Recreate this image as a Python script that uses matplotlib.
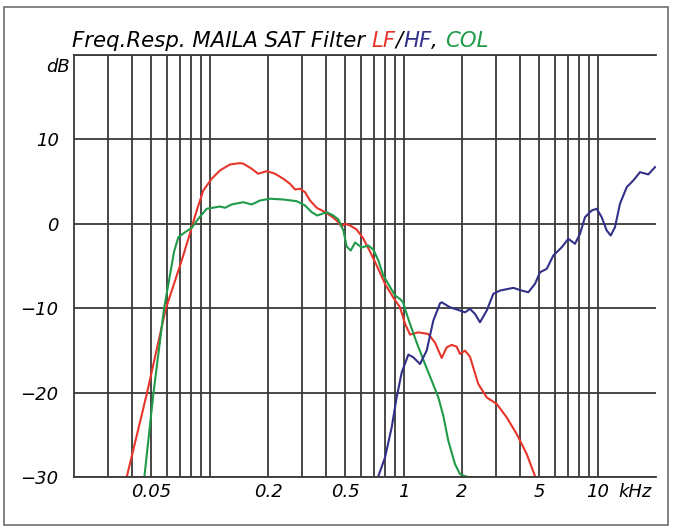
import numpy as np
import matplotlib
matplotlib.use('Agg')
import matplotlib.pyplot as plt
from matplotlib.patches import Rectangle


# frequency in kHz, level in dB
lf_freq = [0.0374, 0.0474, 0.0594, 0.0718, 0.0777, 0.0809, 0.0864, 0.0928, 0.1025, 0.1131,
           0.1274, 0.1435, 0.1492, 0.1648, 0.178, 0.197, 0.2174, 0.2398, 0.2596, 0.2756,
           0.2925, 0.3102, 0.3293, 0.3565, 0.3934, 0.426, 0.452, 0.4796, 0.4988, 0.5295,
           0.573, 0.620, 0.671, 0.727, 0.802, 0.885, 0.958, 1.017, 1.079, 1.190,
           1.341, 1.452, 1.572, 1.668, 1.770, 1.878, 1.953, 2.072, 2.198, 2.427,
           2.682, 3.020, 3.400, 3.828, 4.311, 4.756]
lf_db = [-30.0, -20.2, -10.1, -4.35, -1.78, -0.40, 1.78, 3.95, 5.34, 6.32,
         7.03, 7.19, 7.12, 6.52, 5.93, 6.24, 5.93, 5.34, 4.74, 4.07,
         4.15, 3.75, 2.76, 1.90, 1.38, 0.87, 0.39, -0.32, 0.0, -0.2,
         -0.68, -1.75, -3.29, -4.95, -7.12, -8.74, -9.89, -11.83, -13.13, -12.86,
         -13.05, -14.08, -15.9, -14.64, -14.35, -14.56, -15.42, -15.03, -15.74, -18.98,
         -20.57, -21.35, -22.94, -24.91, -27.28, -29.9]

hf_freq = [0.741, 0.802, 0.868, 0.921, 0.978, 1.058, 1.122, 1.215, 1.315, 1.423,
           1.541, 1.572, 1.734, 1.953, 2.072, 2.198, 2.334, 2.476, 2.682, 2.900,
           3.140, 3.266, 3.676, 4.062, 4.394, 4.756, 5.050, 5.466, 5.912, 6.532,
           7.064, 7.648, 8.115, 8.610, 9.326, 9.896, 10.50, 11.14, 11.68, 12.29,
           13.04, 14.13, 15.28, 16.54, 18.25, 19.76]
hf_db = [-29.9, -27.69, -24.13, -20.57, -17.6, -15.5, -15.82, -16.61, -15.03, -11.47,
         -9.42, -9.3, -9.89, -10.28, -10.49, -10.08, -10.68, -11.67, -10.28, -8.3,
         -7.91, -7.83, -7.59, -7.91, -8.11, -7.12, -5.74, -5.34, -3.76, -2.78,
         -1.78, -2.37, -1.19, 0.78, 1.58, 1.78, 0.78, -0.79, -1.39, -0.40,
         2.37, 4.34, 5.14, 6.12, 5.85, 6.71]

col_freq = [0.0461, 0.0513, 0.0582, 0.0656, 0.069, 0.0747, 0.0809, 0.0874, 0.0966, 0.1131,
            0.120, 0.130, 0.1435, 0.1492, 0.1648, 0.1819, 0.2048, 0.2398, 0.2812, 0.3102,
            0.336, 0.359, 0.401, 0.434, 0.461, 0.489, 0.509, 0.534, 0.562, 0.608,
            0.658, 0.698, 0.741, 0.786, 0.834, 0.903, 0.958, 0.996, 1.017, 1.079,
            1.168, 1.289, 1.396, 1.510, 1.602, 1.700, 1.840, 1.953, 2.072, 2.148]
col_db = [-30.0, -20.17, -10.08, -3.3, -1.59, -1.0, -0.47, 0.59, 1.78, 2.05,
          1.90, 2.29, 2.49, 2.56, 2.29, 2.76, 2.97, 2.88, 2.68, 2.17,
          1.38, 0.98, 1.38, 0.98, 0.51, -0.79, -2.69, -3.17, -2.22, -2.81,
          -2.57, -3.05, -4.35, -6.13, -7.12, -8.5, -8.9, -9.34, -10.08, -11.86,
          -14.08, -16.61, -18.59, -20.57, -22.74, -25.71, -28.47, -29.66, -29.9, -30.0]

grid_freqs = [0.03, 0.04, 0.05, 0.06, 0.07, 0.08, 0.09,
              0.1, 0.2, 0.3, 0.4, 0.5, 0.6, 0.7, 0.8, 0.9,
              1, 2, 3, 4, 5, 6, 7, 8, 9, 10]
x_labels = {0.05: '0.05', 0.2: '0.2', 0.5: '0.5', 1: '1', 2: '2', 5: '5', 10: '10'}
y_ticks = [-30, -20, -10, 0, 10, 20]
y_labels = ['\u221230', '\u221220', '\u221210', '0', '10', '']

red = '#e8352b'
blue = '#323088'
green = '#1f9a48'
gridc = '#3c3838'

plt.rcParams['font.family'] = ['DejaVu Sans']

fig = plt.figure(figsize=(6.74, 5.29), dpi=100)
ax = fig.add_axes([74/674, 1-477/529, (656-74)/674, (477-55)/529])

ax.set_xscale('log')
ax.set_xlim(0.02, 20)
ax.set_ylim(-30, 20)

ax.plot(lf_freq, lf_db, color=red, lw=1.5)
ax.plot(col_freq, col_db, color=green, lw=1.5)
ax.plot(hf_freq, hf_db, color=blue, lw=1.5)

for f in grid_freqs:
    ax.axvline(f, color=gridc, lw=1.3, zorder=0)
for v in y_ticks:
    ax.axhline(v, color=gridc, lw=1.3, zorder=0)

ax.xaxis.set_minor_locator(matplotlib.ticker.NullLocator())
ax.set_xticks(grid_freqs)
ax.set_xticklabels([x_labels.get(f, '') for f in grid_freqs], fontsize=13, style='italic')
ax.set_yticks(y_ticks)
ax.set_yticklabels(y_labels, fontsize=13, style='italic')
ax.tick_params(axis='x', length=0, pad=4)
ax.tick_params(axis='y', length=0, pad=11)

for s in ['left', 'bottom', 'top']:
    ax.spines[s].set_color(gridc)
    ax.spines[s].set_linewidth(1.3)
ax.spines['right'].set_visible(False)

ax.annotate('kHz', xy=(12.8, -30), xytext=(0, -4), textcoords='offset points',
            fontsize=13, style='italic', ha='left', va='top')
ax.annotate('dB', xy=(0, 1), xycoords='axes fraction', xytext=(-3, -2),
            textcoords='offset points', fontsize=13, style='italic', ha='right', va='top')

# title with coloured words
parts = [('Freq.Resp. MAILA SAT Filter ', 'black'), ('LF', red), ('/', 'black'),
         ('HF', blue), (', ', 'black'), ('COL', green)]
renderer = fig.canvas.get_renderer()
x = 72 / 674
for txt, c in parts:
    t = fig.text(x, 1 - 47/529, txt, color=c, fontsize=15.3, style='italic', va='baseline')
    bb = t.get_window_extent(renderer=renderer)
    x += bb.width / fig.bbox.width

fig.patches.append(Rectangle((4/674, 1-525/529), 664/674, 518/529, transform=fig.transFigure,
                             fill=False, edgecolor='#6e6e6e', lw=1.2))

fig.savefig('out.png', dpi=100)
